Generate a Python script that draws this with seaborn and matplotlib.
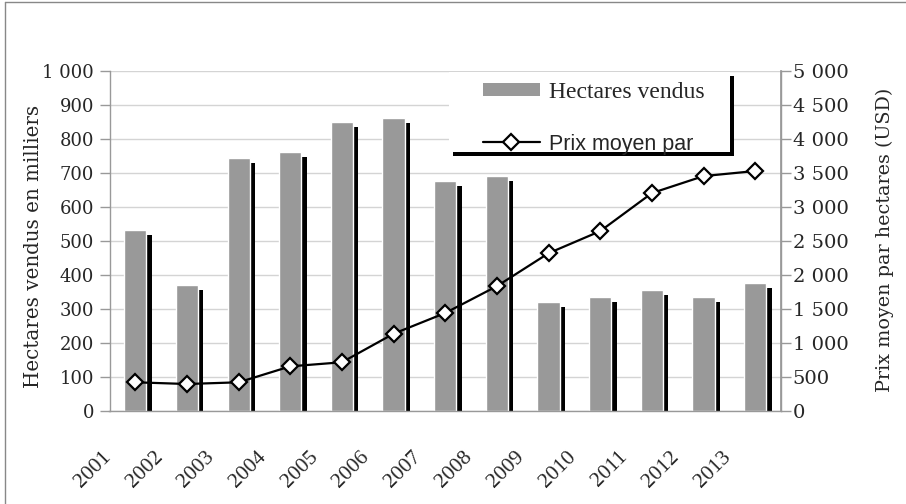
import numpy as np
import pandas as pd
import matplotlib
matplotlib.use("Agg")
import matplotlib.pyplot as plt
import matplotlib.patches as mpatches
import matplotlib.patheffects as pe
from matplotlib.lines import Line2D
from matplotlib.transforms import ScaledTranslation
import seaborn as sns

# data
years = ["2001", "2002", "2003", "2004", "2005", "2006", "2007",
         "2008", "2009", "2010", "2011", "2012", "2013"]
hectares = [532, 368, 742, 762, 848, 860, 677, 690, 320, 335, 355, 335, 374]  # milliers
prices = [415, 390, 415, 650, 710, 1130, 1435, 1830, 2315, 2640, 3200, 3450, 3525]  # USD
left_ticks = list(range(0, 1001, 100))
right_ticks = list(range(0, 5001, 500))
legend_labels = ["Hectares vendus", "Prix moyen par"]


def fr(v):
    # french style thousands: "1 000"
    return f"{v:,}".replace(",", " ")


sns.set_theme(style="white")
plt.rcParams["font.family"] = ["DejaVu Serif"]

W, H = 906, 504
fig = plt.figure(figsize=(W / 100, H / 100), dpi=100)
fig.patch.set_facecolor("white")
ax = fig.add_axes([109.5 / W, 1 - 410.5 / H, (781 - 109.5) / W, (410.5 - 70.8) / H])

df = pd.DataFrame({"annee": years, "hectares": hectares, "prix": prices})
sns.barplot(data=df, x="annee", y="hectares", color="#999999", saturation=1,
            width=0.43, ax=ax)
shadow = [pe.SimplePatchShadow(offset=(3.8, -3.6), shadow_rgbFace="black", alpha=1),
          pe.Normal()]
for p in ax.patches:
    p.set_path_effects(shadow)

ax.set_ylim(0, 1000)
ax.set_yticks(left_ticks)
ax.set_yticklabels([fr(v) for v in left_ticks], fontsize=13)
ax.yaxis.grid(True, color="#d4d4d4", lw=1)
ax.set_axisbelow(True)
ax.set_xlabel("")
ax.set_ylabel("")
ax.spines["top"].set_visible(False)
for s in ["left", "bottom", "right"]:
    ax.spines[s].set_color("#999999")
    ax.spines[s].set_linewidth(1)
ax.tick_params(axis="y", left=True, length=7, width=1, color="#999999", pad=4)
ax.tick_params(axis="x", bottom=False, length=0, pad=0)

ax2 = ax.twinx()
sns.lineplot(x=np.arange(len(years)), y=prices, ax=ax2, color="black", lw=1.6,
             marker="D", markersize=8, markerfacecolor="white",
             markeredgecolor="black", markeredgewidth=1.6)
ax2.set_ylim(0, 5000)
ax2.set_yticks(right_ticks)
ax2.set_yticklabels([fr(v) for v in right_ticks], fontsize=14)
ax2.grid(False)
ax2.set_ylabel("")
for s in ["left", "top", "bottom"]:
    ax2.spines[s].set_visible(False)
ax2.spines["right"].set_color("#999999")
ax2.tick_params(axis="y", right=True, length=7, width=1, color="#999999", pad=1.5)
ax.set_xlim(-0.5, len(years) - 0.5)

ax.set_xticks(range(len(years)))
ax.set_xticklabels(years, rotation=45, ha="right", va="center",
                   rotation_mode="anchor", fontfamily="Liberation Serif", fontsize=15.5)
off = ScaledTranslation(-27 / 100, -44 / 100, fig.dpi_scale_trans)
for lab in ax.get_xticklabels():
    lab.set_transform(lab.get_transform() + off)

# axis titles
fig.text(34 / W, 1 - 246 / H, "Hectares vendus en milliers", rotation=90,
         ha="center", va="center", fontsize=14.3)
fig.text(885 / W, 1 - 240 / H, "Prix moyen par hectares (USD)", rotation=90,
         ha="center", va="center", fontsize=13.8)

# legend box with black drop shadow
box = mpatches.Rectangle((449 / W, 1 - 152 / H), 281 / W, 80 / H,
                         transform=fig.transFigure, facecolor="white",
                         edgecolor="none", zorder=3,
                         path_effects=[pe.SimplePatchShadow(offset=(3, -3), shadow_rgbFace="black", alpha=1),
                                       pe.Normal()])
fig.add_artist(box)

handles = [mpatches.Patch(facecolor="#999999", edgecolor="none"),
           Line2D([], [], color="black", lw=1.6, marker="D", markersize=8,
                  markerfacecolor="white", markeredgecolor="black", markeredgewidth=1.6)]
leg = fig.legend(handles, legend_labels, loc="upper left",
                 bbox_to_anchor=(483 / W, 1 - 82 / H), frameon=False,
                 borderpad=0, borderaxespad=0, handlelength=2.4, handleheight=0.45,
                 handletextpad=0.4, labelspacing=1.3,
                 prop={"family": "Liberation Serif", "size": 17})
leg.set_zorder(5)
t2 = leg.get_texts()[1]
t2.set_fontfamily("Liberation Sans")
t2.set_fontsize(15.5)

# thin frame (left and top edges visible in the original)
fig.add_artist(Line2D([5 / W, 5 / W], [0, 1 - 2 / H], transform=fig.transFigure,
                      color="#888888", lw=1))
fig.add_artist(Line2D([5 / W, 1], [1 - 2 / H, 1 - 2 / H], transform=fig.transFigure,
                      color="#888888", lw=1))

fig.savefig("out.png", dpi=100)
